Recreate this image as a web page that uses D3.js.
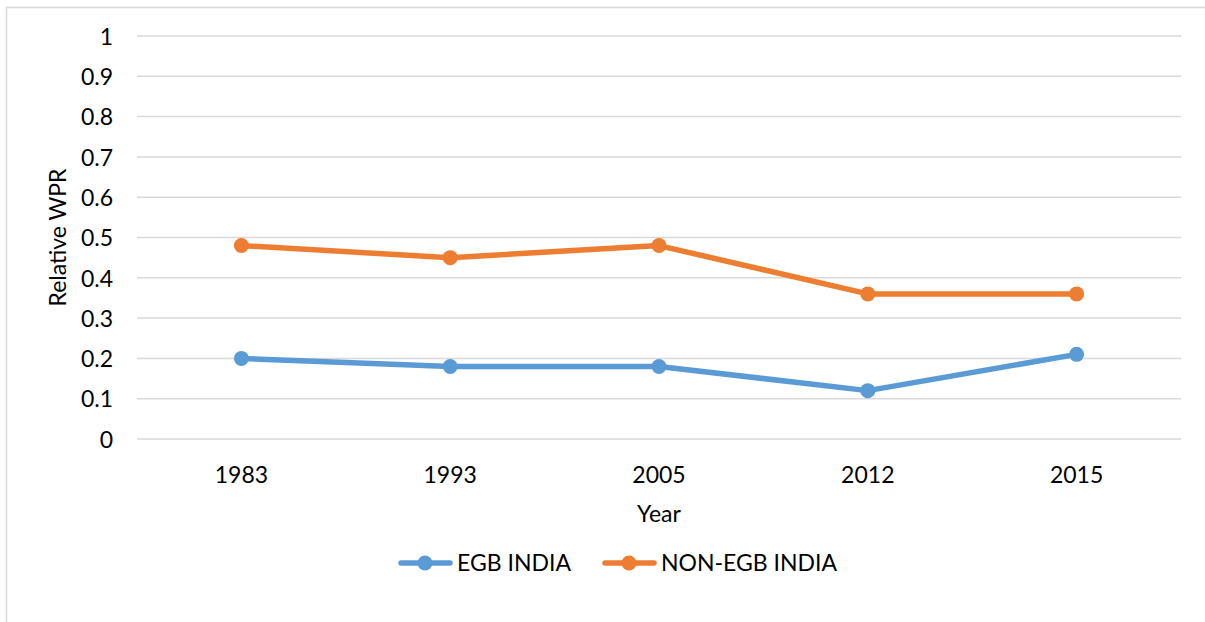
<!DOCTYPE html>
<html>
<head>
<meta charset="utf-8">
<script src="https://cdn.jsdelivr.net/npm/d3@7"></script>
<style>
  html, body { margin: 0; padding: 0; background: #fff; }
  svg text { font-family: Lato, "Open Sans", sans-serif; fill: #000; }
</style>
</head>
<body>
<svg id="chart" width="1205" height="622"></svg>
<script>
// Relative WPR by survey year
const years = ["1983", "1993", "2005", "2012", "2015"];
const egbIndia = [0.20, 0.18, 0.18, 0.12, 0.21];
const nonEgbIndia = [0.48, 0.45, 0.48, 0.36, 0.36];
const yTicks = [0, 0.1, 0.2, 0.3, 0.4, 0.5, 0.6, 0.7, 0.8, 0.9, 1];
const seriesNames = ["EGB INDIA", "NON-EGB INDIA"];
const seriesColors = ["#5B9BD5", "#ED7D31"];

const svg = d3.select("#chart");
const plot = { left: 137, right: 1181, top: 36, bottom: 439 };
const fontSize = 23;
const lineWidth = 5.5;
const markerR = 7.5;

// chart frame
svg.append("rect")
  .attr("x", 6.5).attr("y", 7.5)
  .attr("width", 1250).attr("height", 700)
  .attr("fill", "none").attr("stroke", "#d9d9d9").attr("stroke-width", 1.5);

const x = d3.scaleBand().domain(years).range([plot.left, plot.right]);
const y = d3.scaleLinear().domain([0, 1]).range([plot.bottom, plot.top]);

// horizontal gridlines
svg.append("g").selectAll("line").data(yTicks).join("line")
  .attr("x1", plot.left).attr("x2", plot.right)
  .attr("y1", d => y(d)).attr("y2", d => y(d))
  .attr("stroke", "#d9d9d9").attr("stroke-width", 1.5);

// y axis labels
const yAxis = d3.axisLeft(y).tickValues(yTicks).tickFormat(d3.format("~g")).tickSize(0).tickPadding(0);
const gy = svg.append("g").attr("transform", `translate(${plot.left - 24},0)`).call(yAxis);
gy.select(".domain").remove();
gy.selectAll("text").attr("font-size", fontSize).attr("font-family", "Lato, sans-serif")
  .attr("fill", "#000").attr("dy", "0.36em");

// x axis labels
const xAxis = d3.axisBottom(x).tickSize(0).tickPadding(0);
const gx = svg.append("g").attr("transform", `translate(0,${plot.bottom})`).call(xAxis);
gx.select(".domain").remove();
gx.selectAll("text").attr("font-size", fontSize).attr("font-family", "Lato, sans-serif")
  .attr("fill", "#000").attr("y", 44).attr("dy", 0);

// axis titles
svg.append("text")
  .attr("x", (plot.left + plot.right) / 2).attr("y", 522)
  .attr("text-anchor", "middle").attr("font-size", fontSize)
  .text("Year");
svg.append("text")
  .attr("transform", `translate(66,${(plot.top + plot.bottom) / 2}) rotate(-90)`)
  .attr("text-anchor", "middle").attr("font-size", fontSize)
  .text("Relative WPR");

// series lines and markers
const series = [egbIndia, nonEgbIndia];
const line = d3.line()
  .x((d, i) => x(years[i]) + x.bandwidth() / 2)
  .y(d => y(d));

series.forEach((vals, si) => {
  const g = svg.append("g");
  g.append("path")
    .attr("d", line(vals))
    .attr("fill", "none")
    .attr("stroke", seriesColors[si])
    .attr("stroke-width", lineWidth)
    .attr("stroke-linejoin", "round")
    .attr("stroke-linecap", "round");
  g.selectAll("circle").data(vals).join("circle")
    .attr("cx", (d, i) => x(years[i]) + x.bandwidth() / 2)
    .attr("cy", d => y(d))
    .attr("r", markerR)
    .attr("fill", seriesColors[si]);
});

// legend
const legendItems = [
  { x0: 398, name: seriesNames[0], color: seriesColors[0] },
  { x0: 602, name: seriesNames[1], color: seriesColors[1] }
];
const ly = 563;
legendItems.forEach(it => {
  const g = svg.append("g");
  g.append("line")
    .attr("x1", it.x0 + 3).attr("x2", it.x0 + 52)
    .attr("y1", ly).attr("y2", ly)
    .attr("stroke", it.color).attr("stroke-width", lineWidth)
    .attr("stroke-linecap", "round");
  g.append("circle")
    .attr("cx", it.x0 + 27).attr("cy", ly).attr("r", markerR)
    .attr("fill", it.color);
  g.append("text")
    .attr("x", it.x0 + 59).attr("y", ly + 8)
    .attr("font-size", fontSize)
    .text(it.name);
});
</script>
</body>
</html>
